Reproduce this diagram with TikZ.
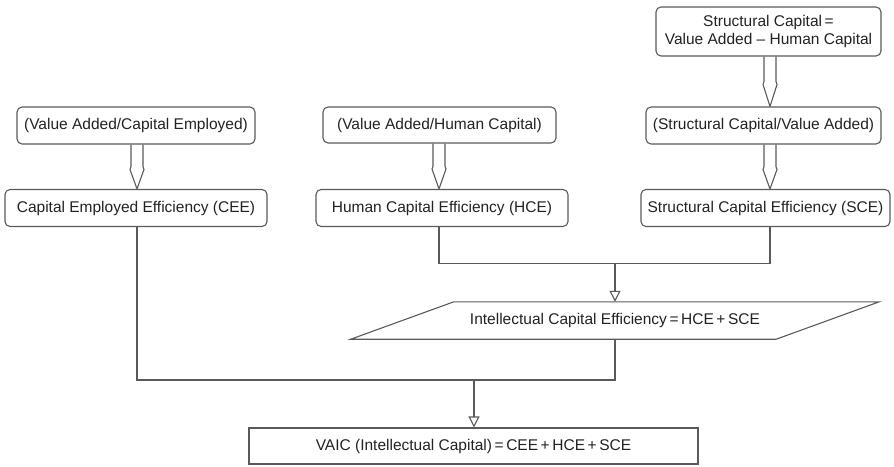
\documentclass[tikz,border=0pt]{standalone}
\usepackage{fontspec}
\setmainfont{Liberation Sans}
\usetikzlibrary{arrows.meta,calc}
\definecolor{linec}{HTML}{5A5A5A}
\definecolor{txtc}{HTML}{222222}
\tikzset{
  box/.style={draw=linec, line width=1.1pt, rounded corners=5pt, text=txtc, inner sep=0pt, align=center, font=\fontsize{15.5}{18}\selectfont},
  sqbox/.style={draw=linec, line width=1.1pt, text=txtc, inner sep=0pt, align=center, font=\fontsize{15.5}{18}\selectfont},
  plain/.style={text=txtc, inner sep=0pt, align=center, font=\fontsize{15.5}{18}\selectfont},
  conn/.style={draw=linec, line width=1.1pt},
  arr/.style={conn, -{Triangle[open, length=11pt, width=11pt]}},
}
\newcommand\fatarr[2]{%
  \draw[conn, line join=round] let \p1=#1, \p2=#2, \n1={\y1-\y2} in
    (\x1-6pt,\y1) -- (\x1-6pt,{\y1-0.5*\n1}) -- (\x1-7pt,{\y1-0.56*\n1}) -- (\x1,\y2)
    -- (\x1+7pt,{\y1-0.56*\n1}) -- (\x1+6pt,{\y1-0.5*\n1}) -- (\x1+6pt,\y1);}
\begin{document}
\begin{tikzpicture}[x=1pt,y=-1pt]
\useasboundingbox (0,0) rectangle (894,466);
% columns
\coordinate (c1) at (137,0);
\coordinate (c2) at (439,0);
\coordinate (c3) at (770,0);
% boxes
\node[box, minimum width=225pt, minimum height=49pt] (sc) at (768.5,31.5)
  {Structural Capital\,=\\Value Added -- Human Capital};
\node[box, minimum width=238pt, minimum height=37pt] (vace) at (136,125.5) {(Value Added/Capital Employed)};
\node[box, minimum width=233pt, minimum height=36pt] (vahc) at (439.5,125) {(Value Added/Human Capital)};
\node[box, minimum width=235pt, minimum height=37pt] (scva) at (763.5,125.5) {(Structural Capital/Value Added)};
\node[box, minimum width=262pt, minimum height=37pt] (cee) at (136,208) {Capital Employed Efficiency (CEE)};
\node[box, minimum width=252pt, minimum height=37pt] (hce) at (442,208) {Human Capital Efficiency (HCE)};
\node[box, minimum width=249pt, minimum height=37pt] (sce) at (765.5,208) {Structural Capital Efficiency (SCE)};
\node[plain, minimum width=425pt, minimum height=37pt] (par) at (615,320.5)
  {Intellectual Capital Efficiency\,=\,HCE\,+\,SCE};
\draw[conn] ([xshift=51.5pt]par.north west) -- ([xshift=51.5pt]par.north east)
  -- ([xshift=-51.5pt]par.south east) -- ([xshift=-51.5pt]par.south west) -- cycle;
\node[sqbox, minimum width=449pt, minimum height=36pt] (vaic) at (473.5,446)
  {VAIC (Intellectual Capital)\,=\,CEE\,+\,HCE\,+\,SCE};
% fat arrows
\fatarr{(sc.south -| c3)}{(scva.north -| c3)}
\fatarr{(scva.south -| c3)}{(sce.north -| c3)}
\fatarr{(vace.south -| c1)}{(cee.north -| c1)}
\fatarr{(vahc.south -| c2)}{(hce.north -| c2)}
% connectors
\coordinate (j1) at ($(par.north)+(0,-38)$);
\draw[conn] (hce.south -| c2) |- (j1) -| (sce.south -| c3);
\draw[arr] (j1) -- (par.north);
\coordinate (j2) at (474,380);
\draw[conn] (cee.south -| c1) |- (j2) -| (par.south);
\draw[arr] (j2) -- (vaic.north -| j2);
\end{tikzpicture}
\end{document}
